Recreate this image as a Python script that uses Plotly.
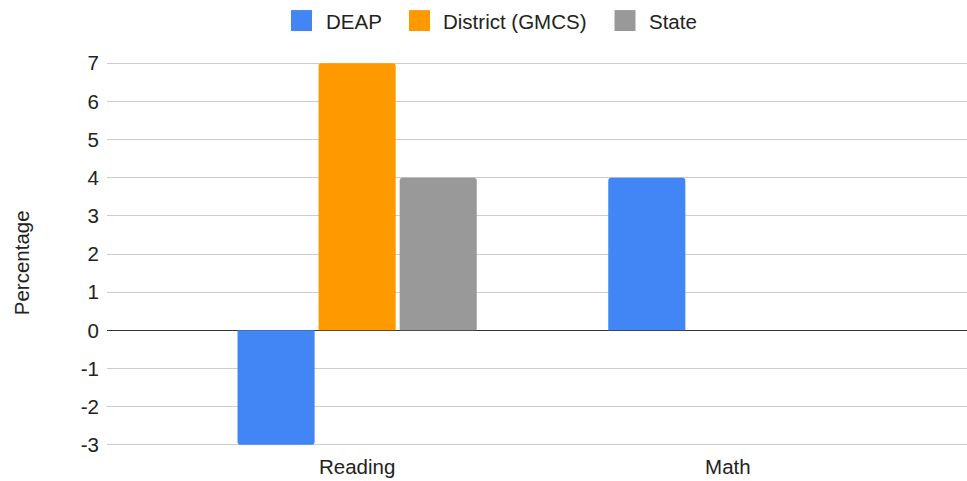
import plotly.graph_objects as go

# ---- data ----
categories = ["Reading", "Math"]
series_names = ["DEAP", "District (GMCS)", "State"]
deap = [-3, 4]
district = [7, 0]
state = [4, 0]
y_ticks = [-3, -2, -1, 0, 1, 2, 3, 4, 5, 6, 7]

series_values = [deap, district, state]
colors = ["#4285F4", "#FF9900", "#999999"]

W, H = 967, 481
L, R, T, B = 107, 0, 61.5, 35
FONT = "Arial, Liberation Sans, sans-serif"
TXT = "#222222"
FS = 20.5

fig = go.Figure()
for name, vals, col in zip(series_names, series_values, colors):
    fig.add_trace(go.Bar(x=categories, y=vals, name=name, marker_color=col,
                         marker_line_width=0, showlegend=False, hoverinfo="skip"))

pw, ph = W - L - R, H - T - B


def px_x(px):
    return (px - L) / pw


def px_y(py):
    return (H - B - py) / ph


# manual legend (swatch + text), positions in pixels
legend_swatch_x = [291, 409, 614.5]
legend_text_x = [323.5, 441, 647]
shapes = []
annotations = []
for name, col, sx, tx in zip(series_names, colors, legend_swatch_x, legend_text_x):
    shapes.append(dict(type="rect", xref="paper", yref="paper",
                       x0=px_x(sx), x1=px_x(sx + 21), y0=px_y(30.5), y1=px_y(9.5),
                       fillcolor=col, line=dict(width=0), layer="above"))
    annotations.append(dict(text=name, xref="paper", yref="paper",
                            x=px_x(tx), y=px_y(20.5), xanchor="left", yanchor="middle",
                            showarrow=False, font=dict(family=FONT, size=FS, color=TXT)))

annotations.append(dict(text="Percentage", xref="paper", yref="paper",
                        x=px_x(21), y=px_y(263), xanchor="center", yanchor="middle",
                        textangle=-90, showarrow=False,
                        font=dict(family=FONT, size=FS, color=TXT)))

fig.update_layout(
    width=W, height=H,
    margin=dict(l=L, r=R, t=T, b=B, pad=0),
    paper_bgcolor="white", plot_bgcolor="white",
    barmode="group", bargap=0.344, bargroupgap=0.049,
    barcornerradius=3,
    font=dict(family=FONT, size=FS, color=TXT),
    showlegend=False,
    shapes=shapes, annotations=annotations,
    xaxis=dict(type="category", range=[-0.6747, 1.645], showgrid=False,
               zeroline=False, showline=False, ticks="", fixedrange=True,
               ticklabelstandoff=6,
               tickfont=dict(family=FONT, size=FS, color=TXT)),
    yaxis=dict(range=[-3.03, 7.03], tickvals=y_ticks, ticktext=[str(v) for v in y_ticks],
               showgrid=True, gridcolor="#CCCCCC", gridwidth=1,
               zeroline=True, zerolinecolor="#333333", zerolinewidth=1.3,
               showline=False, ticks="", ticklabelstandoff=7, fixedrange=True,
               tickfont=dict(family=FONT, size=FS, color=TXT)),
)

fig.write_html("out.html",
               config={"displayModeBar": False, "staticPlot": True},
               post_script="document.body.style.margin='0';document.body.style.padding='0';"
                           "document.body.style.overflow='hidden';")
